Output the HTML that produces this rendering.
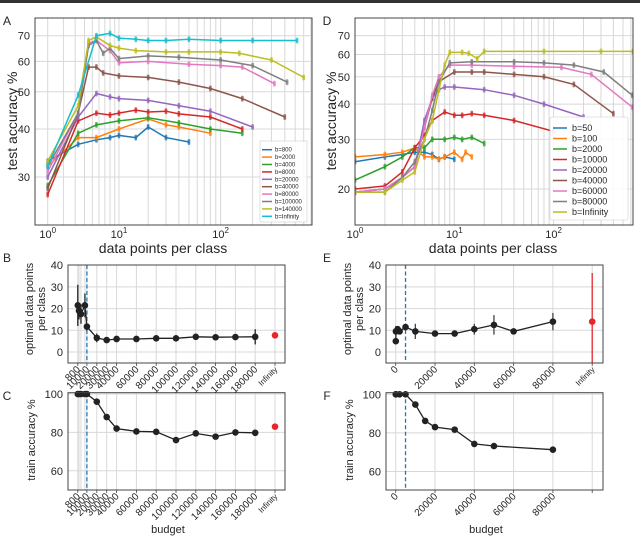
<!DOCTYPE html>
<html><head><meta charset="utf-8">
<style>
html,body{margin:0;padding:0;background:#fff;}
svg{display:block;font-family:"Liberation Sans","DejaVu Sans",sans-serif;}
</style></head>
<body>
<svg id="fig" width="640" height="537" viewBox="0 0 640 537" xmlns="http://www.w3.org/2000/svg">
<rect x="0" y="0" width="640" height="3" fill="#333"/>
<g id="layer-grid"></g>
<g id="layer-data"></g>
<g id="layer-frame"></g>
<g id="layer-text"></g>
</svg>
<script>
// ---------- Panel A data ----------
const aBudgets = ["b=800","b=2000","b=4000","b=8000","b=20000","b=40000","b=80000","b=100000","b=140000","b=Infinity"];
const aX_800 = [1,3.3,5.6,8,10,15,20,30,50];
const aY_800 = [33,36.5,37.5,38,38.5,38,40.5,38,37];
const aX_2000 = [1,3.3,5.6,10,20,30,40,80];
const aY_2000 = [32,38,38,40,42.5,41,40.5,39];
const aX_4000 = [1,3.3,5.6,10,20,40,80,160];
const aY_4000 = [28.5,39,41,42,42.8,41.5,40,39];
const aX_8000 = [1,3.3,5.6,8,10,15,20,30,40,80,160];
const aY_8000 = [27,42,44,43.5,44,44.8,44.3,44.5,43.8,43,40];
const aX_20000 = [1,3.3,5.6,8,10,20,40,80,200];
const aY_20000 = [30,43,49.5,48.5,48,47.5,46,44.5,40.5];
const aX_40000 = [1,3.3,4.5,5.6,6.7,10,20,40,80,160,400];
const aY_40000 = [28,44,58,58,56,55,54.5,53,51,48,43];
const aX_80000 = [1,3.3,4.5,5.6,8,10,20,50,100,160,320];
const aY_80000 = [31,44,67,68,64,59.5,60,59,58.5,58,52.5];
const aX_100000 = [1,3.3,4.5,5.6,6.7,8,10,20,40,100,200,420];
const aY_100000 = [32,44,66,68,63,65,61,62,61.5,60.5,58.5,53];
const aX_140000 = [1,3.3,4.5,5.6,8,10,15,30,50,100,150,300,600];
const aY_140000 = [33,46,68,69.5,66,65,64,63.5,63.5,63.5,63,60.5,54.5];
const aX_inf = [1,3.3,5.6,8,10,15,20,30,50,100,200,520];
const aY_inf = [32,49,70,71,69,68.5,68,68,68.5,68,68,68];
const aYTicks = [30,40,50,60,70];

// ---------- Panel D data ----------
const dBudgets = ["b=50","b=100","b=2000","b=10000","b=20000","b=40000","b=60000","b=80000","b=Infinity"];
const dX_50 = [1,2,3,4,5,6,7,8,10];
const dY_50 = [25,26,26.5,27,27,26.5,25.5,26,25.5];
const dX_100 = [1,2,3,4,5,6,7,8,10,12,13,15];
const dY_100 = [26,26.5,27,28,26,26,25.5,26,27,25.5,27,26];
const dX_2000 = [1,2,3,4,5,6,8,10,12,15,20];
const dY_2000 = [21.5,24,26,28,28,30,30,30.5,30,30.5,29];
const dX_10000 = [1,2,3,4,5,6,8,10,12,15,20,40,100];
const dY_10000 = [20,20.5,23,28,31,35,37.5,36.5,36.5,37,36.5,35,32];
const dX_20000 = [1,2,3,4,5,6,7,8,10,20,40,80,200];
const dY_20000 = [19.5,20,22,24,35,42,45,46,46,45,43,40,36];
const dX_40000 = [1,2,3,4,5,6,7,10,15,20,40,80,160,400];
const dY_40000 = [19.5,20,22,24,33,42,48,52,52,52,51,50,47,37];
const dX_60000 = [1,2,3,4,5,6,7,9,15,40,120,240,620];
const dY_60000 = [19.5,20,22,24,33,43,50,55,55,54.5,54,51,39];
const dX_80000 = [1,2,3,4,5,6,7,9,15,40,80,160,320,620];
const dY_80000 = [19.5,19.5,22,25,30,38,48,56,56.5,56.5,56,55,52,43];
const dX_inf = [1,2,3,4,5,6,7,8,9,12,14,17,20,80,300,630];
const dY_inf = [19.5,19.5,21.5,23,30,35,45,55,61,61,60.5,58,61.5,61.5,61.5,61.5];
const dYTicks = [20,30,40,50,60,70];

// ---------- Panel B / C data ----------
const bcBudgets = [800,2000,4000,8000,10000,20000,30000,40000,60000,80000,100000,120000,140000,160000,180000];
const bOptimal = [21.5,19,17.5,21.5,11.7,6.5,5.5,6,6,6.3,6.3,7,6.8,6.9,7];
const bErrLo = [12,15,13,16,10,4.5,4.5,5,5,5.5,5.5,6,6,6,3.5];
const bErrHi = [31,22,22,27,13,8.5,6.5,7,7,7,7,8,7.5,8,10.5];
const bInfValue = [7.7];
const cTrain = [100,100,100,100,100,96,88,82,80.5,80.3,76,79.5,77.8,80,79.8];
const cInfValue = [83];
const bcTickValues = [800,10000,20000,30000,40000,60000,80000,100000,120000,140000,160000,180000];
const bcTickLabels = ["800","10000","20000","30000","40000","60000","80000","100000","120000","140000","160000","180000"];
const bYTicks = [0,10,20,30,40];
const cYTicks = [60,80,100];

// ---------- Panel E / F data ----------
const efBudgetsE = [50,100,1000,2000,5000,10000,20000,30000,40000,50000,60000,80000];
const eOptimal = [5,9.5,10.5,9.5,11.5,9.5,8.5,8.5,10.5,12.5,9.5,14];
const eErrLo = [4,8,9,8.5,10,6,7.5,7.5,8,8,8.5,10];
const eErrHi = [6,12,12,10.5,13,13,9.5,9.5,13,17,10.5,18];
const eInfValue = [14];
const eInfLo = [-5];
const eInfHi = [36.4];
const efBudgetsF = [50,100,2000,5000,10000,15000,20000,30000,40000,50000,80000];
const fTrain = [100,100,100,100,94.7,86.2,83,81.7,74.3,73.2,71.3];
const efTickValues = [0,20000,40000,60000,80000];
const efTickLabels = ["0","20000","40000","60000","80000"];

// ---------- scales ----------
const L = Math.log10;
const ax = v => 47.7 + 107.5*L((v+1.5)/2.5);
const ay = v => 177 - 384*L(v/30);
const dx = v => 355 + 99.3*L(v);
const dy = v => 189 - 282*L(v/20);
const bx = v => 77 + v*9.9/10000;
const by = v => 352 - 2.17*v;
const cy = v => 394 + 1.92*(100-v);
const ex = v => 395.7 + v*39.3/20000;
const ey = v => 352 - 2.17*v;
const fy = v => 394.3 + 1.93*(100-v);

const NS = "http://www.w3.org/2000/svg";
const gGrid = document.getElementById("layer-grid");
const gData = document.getElementById("layer-data");
const gFrame = document.getElementById("layer-frame");
const gText = document.getElementById("layer-text");
function mk(tag, attrs, parent){
  const e = document.createElementNS(NS, tag);
  for (const k in attrs) e.setAttribute(k, attrs[k]);
  parent.appendChild(e);
  return e;
}
function txt(s, x, y, size, anchor, parent, extra){
  const t = mk("text", Object.assign({x:x, y:y, "font-size":size, "text-anchor":anchor||"middle", fill:"#262626"}, extra||{}), parent);
  t.textContent = s;
  return t;
}
const GRID = "#d8d8d8";

function frame(x0,y0,x1,y1,name){
  const r = mk("rect",{x:x0,y:y0,width:x1-x0,height:y1-y0,fill:"none",stroke:"#444","stroke-width":1},gFrame);
  
  
}
function vgrid(x,y0,y1){ mk("line",{x1:x,x2:x,y1:y0,y2:y1,stroke:GRID,"stroke-width":1},gGrid); }
function hgrid(y,x0,x1){ mk("line",{x1:x0,x2:x1,y1:y,y2:y,stroke:GRID,"stroke-width":1},gGrid); }

// ---------- Panel A ----------
const A = {x0:35,x1:312,y0:18,y1:225};
for (let d=1; d<=100; d*=10) for (let m=1; m<=9; m++){ const v=d*m; const p=ax(v); if(p>A.x0 && p<A.x1) vgrid(p,A.y0,A.y1); }
aYTicks.forEach(v=>{ hgrid(ay(v),A.x0,A.x1); const t=txt(String(v),A.x0-5,ay(v)+4,11,"end",gText);
  
   });
[[1,"0"],[10,"1"],[100,"2"]].forEach(([v,e])=>{
  const t = mk("text",{x:ax(v),y:A.y1+13,"font-size":11,"text-anchor":"middle",fill:"#262626"},gText);
  
  
  t.innerHTML = '10<tspan dy="-5" font-size="8">'+e+'</tspan>';
});
const aColors = ["#1f77b4","#ff7f0e","#2ca02c","#d62728","#9467bd","#8c564b","#e377c2","#7f7f7f","#bcbd22","#17becf"];
const aXs = [aX_800,aX_2000,aX_4000,aX_8000,aX_20000,aX_40000,aX_80000,aX_100000,aX_140000,aX_inf];
const aYs = [aY_800,aY_2000,aY_4000,aY_8000,aY_20000,aY_40000,aY_80000,aY_100000,aY_140000,aY_inf];
function series(xs, ys, fx, fy, color, name, parent, jit){
  const g = mk("g",{},parent);
  
  
  const pts = xs.map((x,i)=>fx(x).toFixed(1)+","+fy(ys[i]).toFixed(1)).join(" ");
  mk("polyline",{points:pts,fill:"none",stroke:color,"stroke-width":1.5},g);
  xs.forEach((x,i)=>{
    [-jit,0,jit].forEach(o=>{
      const c = mk("circle",{cx:fx(x),cy:fy(ys[i])+o,r:1.4,fill:color,opacity:0.75},g);
      
      
    });
  });
}
aXs.forEach((xs,i)=>series(xs,aYs[i],ax,ay,aColors[i],"a-series-"+aBudgets[i].replace("=","-").toLowerCase(),gData,1.6));
frame(A.x0,A.y0,A.x1,A.y1,"panel-a-axes");
(function(){
  const g = mk("g",{},gText);
  
  
  mk("rect",{x:260,y:141,width:47,height:81,fill:"#fff","fill-opacity":0.85,stroke:"#ccc","stroke-width":0.6},g);
  aBudgets.forEach((b,i)=>{
    const y = 149.7 + i*7.4;
    mk("line",{x1:262,x2:272,y1:y,y2:y,stroke:aColors[i],"stroke-width":1.5},g);
    const t = txt(b,275,y+2,6,"start",g);
    
    
  });
})();
let t;
t = txt("test accuracy %",0,0,14,"middle",gText,{transform:"translate(17,121) rotate(-90)"});
 
t = txt("data points per class",163,253,14,"middle",gText);
 
t = txt("A",7,25,12,"middle",gText);
 

// ---------- Panel D ----------
const D = {x0:355,x1:633,y0:18,y1:225};
for (let d=1; d<=100; d*=10) for (let m=1; m<=9; m++){ const v=d*m; const p=dx(v); if(p>D.x0 && p<D.x1) vgrid(p,D.y0,D.y1); }
dYTicks.forEach(v=>{ hgrid(dy(v),D.x0,D.x1); const t=txt(String(v),D.x0-5,dy(v)+4,11,"end",gText);
  
   });
[[1,"0"],[10,"1"],[100,"2"]].forEach(([v,e])=>{
  const t = mk("text",{x:dx(v),y:D.y1+13,"font-size":11,"text-anchor":"middle",fill:"#262626"},gText);
  
  
  t.innerHTML = '10<tspan dy="-5" font-size="8">'+e+'</tspan>';
});
const dColors = ["#1f77b4","#ff7f0e","#2ca02c","#d62728","#9467bd","#8c564b","#e377c2","#7f7f7f","#bcbd22"];
const dXs = [dX_50,dX_100,dX_2000,dX_10000,dX_20000,dX_40000,dX_60000,dX_80000,dX_inf];
const dYs = [dY_50,dY_100,dY_2000,dY_10000,dY_20000,dY_40000,dY_60000,dY_80000,dY_inf];
const clipD = mk("clipPath",{id:"clipD"},document.getElementById("fig"));
mk("rect",{x:D.x0,y:D.y0,width:D.x1-D.x0,height:D.y1-D.y0},clipD);
const gD = mk("g",{"clip-path":"url(#clipD)"},gData);
dXs.forEach((xs,i)=>series(xs,dYs[i],dx,dy,dColors[i],"d-series-"+dBudgets[i].replace("=","-").toLowerCase(),gD,1.6));
frame(D.x0,D.y0,D.x1,D.y1,"panel-d-axes");
(function(){
  const g = mk("g",{},gText);
  
  
  mk("rect",{x:550,y:117,width:78,height:103,fill:"#fff","fill-opacity":0.9,stroke:"#ccc","stroke-width":0.6,rx:2},g);
  dBudgets.forEach((b,i)=>{
    const y = 128 + i*10.5;
    mk("line",{x1:553,x2:567,y1:y,y2:y,stroke:dColors[i],"stroke-width":1.5},g);
    const t = txt(b,572,y+3.2,9,"start",g);
    
    
  });
})();
t = txt("test accuracy %",0,0,14,"middle",gText,{transform:"translate(336,121) rotate(-90)"});
 
t = txt("data points per class",493,253,14,"middle",gText);
 
t = txt("D",327,25,12,"middle",gText);
 

// ---------- helpers for lower panels ----------
function dotLine(xs, ys, fx, fy, name, color){
  const g = mk("g",{},gData);
  
  
  mk("polyline",{points:xs.map((x,i)=>fx(x).toFixed(1)+","+fy(ys[i]).toFixed(1)).join(" "),fill:"none",stroke:color,"stroke-width":1.3},g);
  xs.forEach((x,i)=>{
    const c = mk("circle",{cx:fx(x),cy:fy(ys[i]),r:3.3,fill:color},g);
    
    
  });
}
function errBars(xs, lo, hi, fx, fy, color, name){
  xs.forEach((x,i)=>{
    const l = mk("line",{x1:fx(x),x2:fx(x),y1:fy(lo[i]),y2:fy(hi[i]),stroke:color,"stroke-width":1.3},gData);
    
    
  });
}
function rotLabels(vals, labels, fx, y, size){
  vals.forEach((v,i)=>{
    const x = fx(v);
    mk("line",{x1:x,x2:x,y1:y-3,y2:y,stroke:"#444","stroke-width":0.8},gFrame);
    const t = txt(labels[i],0,0,size,"end",gText,{transform:"translate("+(x+3)+","+(y+4)+") rotate(-45)"});
    
    
  });
}

// ---------- Panel B ----------
const B = {x0:68,x1:285,y0:265,y1:363};
bcBudgets.concat([200000]).forEach(v=>vgrid(bx(v),B.y0,B.y1));
bYTicks.forEach(v=>{ if(v<40) hgrid(by(v),B.x0,B.x1); const t=txt(String(v),B.x0-5,by(v)+4,11,"end",gText);
    });
mk("line",{x1:bx(10000),x2:bx(10000),y1:B.y0,y2:B.y1,stroke:"#1f77b4","stroke-width":1.3,"stroke-dasharray":"4,2.5"},gData);
errBars(bcBudgets,bErrLo,bErrHi,bx,by,"#222","b-error-bar");
dotLine(bcBudgets,bOptimal,bx,by,"b-optimal-series","#222");
bInfValue.forEach(v=>{ const c=mk("circle",{cx:bx(200000),cy:by(v),r:3.3,fill:"#e8262a"},gData);
    });
frame(B.x0,B.y0,B.x1,B.y1,"panel-b-axes");
rotLabels(bcTickValues,bcTickLabels,bx,B.y1+3,10);
rotLabels([200000],["Infinity"],bx,B.y1+3,8);
t = txt("optimal data points",0,0,11,"middle",gText,{transform:"translate(33,309) rotate(-90)"});
 
t = txt("per class",0,0,11,"middle",gText,{transform:"translate(45,309) rotate(-90)"});
 
t = txt("B",7,262,12,"middle",gText);
 

// ---------- Panel C ----------
const C = {x0:68,x1:285,y0:392.7,y1:490};
bcBudgets.concat([200000]).forEach(v=>vgrid(bx(v),C.y0,C.y1));
cYTicks.forEach(v=>{ hgrid(cy(v),C.x0,C.x1); const t=txt(String(v),C.x0-5,cy(v)+4,11,"end",gText);
    });
mk("line",{x1:bx(10000),x2:bx(10000),y1:C.y0,y2:C.y1,stroke:"#1f77b4","stroke-width":1.3,"stroke-dasharray":"4,2.5"},gData);
dotLine(bcBudgets,cTrain,bx,cy,"c-train-series","#222");
cInfValue.forEach(v=>{ const c=mk("circle",{cx:bx(200000),cy:cy(v),r:3.3,fill:"#e8262a"},gData);
    });
frame(C.x0,C.y0,C.x1,C.y1,"panel-c-axes");
rotLabels(bcTickValues,bcTickLabels,bx,C.y1+3,10);
rotLabels([200000],["Infinity"],bx,C.y1+3,8);
t = txt("train accuracy %",0,0,11,"middle",gText,{transform:"translate(35,440) rotate(-90)"});
 
t = txt("budget",168,533,11,"middle",gText);
 
t = txt("C",7,400,12,"middle",gText);
 

// ---------- Panel E ----------
const E = {x0:386,x1:603,y0:265,y1:363};
efTickValues.concat([100000]).forEach(v=>vgrid(ex(v),E.y0,E.y1));
bYTicks.forEach(v=>{ if(v<40) hgrid(ey(v),E.x0,E.x1); const t=txt(String(v),E.x0-5,ey(v)+4,11,"end",gText);
    });
mk("line",{x1:ex(5000),x2:ex(5000),y1:E.y0,y2:E.y1,stroke:"#1f77b4","stroke-width":1.3,"stroke-dasharray":"4,2.5"},gData);
errBars(efBudgetsE,eErrLo,eErrHi,ex,ey,"#444","e-error-bar");
dotLine(efBudgetsE,eOptimal,ex,ey,"e-optimal-series","#222");
errBars([100000],eInfLo,eInfHi,ex,ey,"#e8262a","e-infinity-error-bar");
eInfValue.forEach(v=>{ const c=mk("circle",{cx:ex(100000),cy:ey(v),r:3.3,fill:"#e8262a"},gData);
    });
frame(E.x0,E.y0,E.x1,E.y1,"panel-e-axes");
rotLabels(efTickValues,efTickLabels,ex,E.y1+3,10);
rotLabels([100000],["Infinity"],ex,E.y1+3,8);
t = txt("optimal data points",0,0,11,"middle",gText,{transform:"translate(351,309) rotate(-90)"});
 
t = txt("per class",0,0,11,"middle",gText,{transform:"translate(363,309) rotate(-90)"});
 
t = txt("E",327,262,12,"middle",gText);
 

// ---------- Panel F ----------
const F = {x0:386,x1:603,y0:392.7,y1:490};
efTickValues.concat([100000]).forEach(v=>vgrid(ex(v),F.y0,F.y1));
cYTicks.forEach(v=>{ hgrid(fy(v),F.x0,F.x1); const t=txt(String(v),F.x0-5,fy(v)+4,11,"end",gText);
    });
mk("line",{x1:ex(5000),x2:ex(5000),y1:F.y0,y2:F.y1,stroke:"#1f77b4","stroke-width":1.3,"stroke-dasharray":"4,2.5"},gData);
dotLine(efBudgetsF,fTrain,ex,fy,"f-train-series","#222");
frame(F.x0,F.y0,F.x1,F.y1,"panel-f-axes");
rotLabels(efTickValues,efTickLabels,ex,F.y1+3,10);
mk("line",{x1:ex(100000),x2:ex(100000),y1:F.y1,y2:F.y1+3,stroke:"#444","stroke-width":0.8},gFrame);
t = txt("train accuracy %",0,0,11,"middle",gText,{transform:"translate(353,440) rotate(-90)"});
 
t = txt("budget",486,533,11,"middle",gText);
 
t = txt("F",327,400,12,"middle",gText);
 
</script>
</body></html>
